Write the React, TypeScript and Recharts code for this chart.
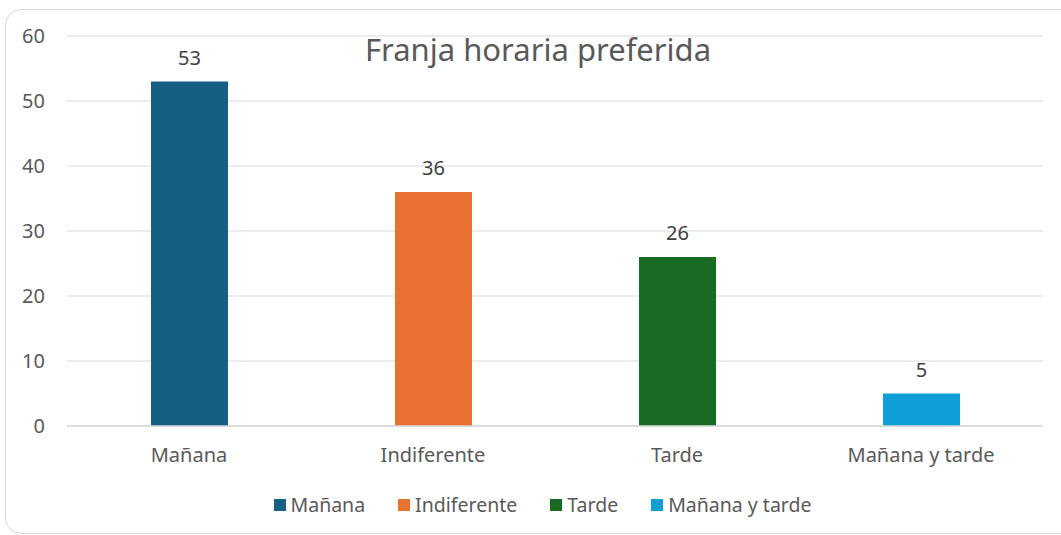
import { Bar, BarChart, CartesianGrid, Cell, LabelList, XAxis, YAxis } from "recharts"

const categories = ["Mañana", "Indiferente", "Tarde", "Mañana y tarde"]
const counts = [53, 36, 26, 5]
const colors = ["#156082", "#E97132", "#196B24", "#0F9ED5"]
const yTicks = [0, 10, 20, 30, 40, 50, 60]

const data = categories.map((name, i) => ({ name, value: counts[i] }))

const FONT = "'Noto Sans', 'Open Sans', sans-serif"
const TEXT = "#595959"

function LegendBox() {
  return (
    <div
      style={{
        position: "absolute",
        top: 492,
        left: 0,
        width: 1085,
        display: "flex",
        justifyContent: "center",
        gap: 33,
        fontFamily: FONT,
        fontSize: 19.5,
        color: TEXT,
        lineHeight: "26px",
      }}
    >
      {categories.map((c, i) => (
        <div key={c} style={{ display: "flex", alignItems: "center", gap: 5 }}>
          <span style={{ width: 12, height: 12, background: colors[i], display: "inline-block" }} />
          <span>{c}</span>
        </div>
      ))}
    </div>
  )
}

export default function App() {
  return (
    <div style={{ position: "absolute", left: 0, top: 0, width: 1061, height: 535, background: "#fff", overflow: "hidden" }}>
      <div
        style={{
          position: "absolute",
          left: 5,
          top: 9,
          width: 1070,
          height: 523,
          border: "1px solid #d9d9d9",
          borderRadius: 16,
        }}
      />
      <BarChart
        width={1061}
        height={535}
        data={data}
        margin={{ top: 36, right: 18, left: 0, bottom: 69 }}
        barSize={77}
        style={{ position: "absolute", left: 0, top: 0 }}
      >
        <CartesianGrid vertical={false} stroke="#d9d9d9" />
        <XAxis
          dataKey="name"
          height={40}
          axisLine={{ stroke: "#d9d9d9", strokeWidth: 1.5 }}
          tickLine={false}
          tickMargin={16}
          tick={{ fill: TEXT, fontSize: 20, fontFamily: FONT }}
        />
        <YAxis
          width={67}
          domain={[0, 60]}
          ticks={yTicks}
          axisLine={false}
          tickLine={false}
          tickSize={0}
          tickMargin={22}
          tick={{ fill: TEXT, fontSize: 20, fontFamily: FONT }}
        />
        <Bar dataKey="value" isAnimationActive={false}>
          {data.map((d, i) => (
            <Cell key={d.name} fill={colors[i]} />
          ))}
          <LabelList dataKey="value" position="top" offset={17} style={{ fill: "#404040", fontSize: 20, fontFamily: FONT }} />
        </Bar>
      </BarChart>
      <div
        style={{
          position: "absolute",
          left: 0,
          width: 1076,
          top: 29,
          textAlign: "center",
          fontFamily: FONT,
          fontSize: 31,
          color: TEXT,
          lineHeight: "40px",
        }}
      >
        Franja horaria preferida
      </div>
      <LegendBox />
    </div>
  )
}
